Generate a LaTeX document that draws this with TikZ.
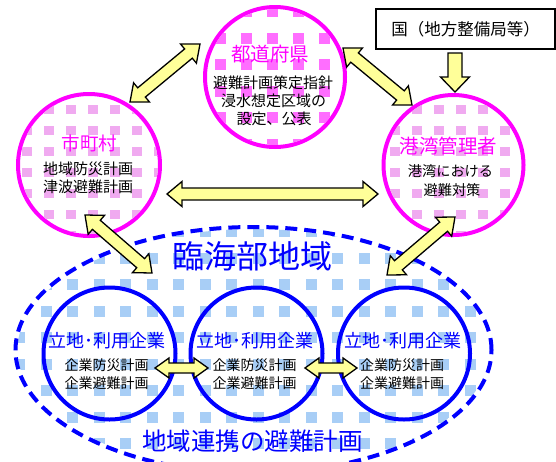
\documentclass[tikz,border=0pt]{standalone}
\usepackage{fontspec}
\newfontfamily\jp{Noto Sans CJK JP}
\usetikzlibrary{calc}
\definecolor{mag}{RGB}{255,0,255}
\definecolor{blu}{RGB}{0,0,255}
\definecolor{arrowyellow}{RGB}{255,255,153}
\definecolor{patblue}{RGB}{168,206,246}
\definecolor{patmag}{RGB}{255,110,255}
\definecolor{patmagsoft}{RGB}{240,170,240}
\tikzset{
  txt/.style={inner sep=0pt, font=\jp\fontsize{#1pt}{#1pt}\selectfont, text height=0.88em, text depth=0.12em},
  blockarrow/.style={draw=black, fill=arrowyellow, line width=1.3pt, line join=miter},
  magcircle/.style={circle, draw=mag, line width=4pt, fill=white, minimum size=#1, inner sep=0pt},
  blucircle/.style={circle, draw=blu, line width=4pt, minimum size=#1, inner sep=0pt},
}
% double block arrow: #1 from, #2 to, #3 head length, #4 head half width, #5 shaft half width
\newcommand\dbllink[5]{%
  \draw[blockarrow] (#1)
    -- ($(#1)!#3!(#2)!#4!90:(#2)$)
    -- ($(#1)!#3!(#2)!#5!90:(#2)$)
    -- ($(#2)!#3!(#1)!#5!-90:(#1)$)
    -- ($(#2)!#3!(#1)!#4!-90:(#1)$)
    -- (#2)
    -- ($(#2)!#3!(#1)!#4!90:(#1)$)
    -- ($(#2)!#3!(#1)!#5!90:(#1)$)
    -- ($(#1)!#3!(#2)!#5!-90:(#2)$)
    -- ($(#1)!#3!(#2)!#4!-90:(#2)$)
    -- cycle;}
% single block arrow: #1 tail, #2 tip
\newcommand\snglink[5]{%
  \draw[blockarrow] ($(#1)!#5!90:(#2)$)
    -- ($(#2)!#3!(#1)!#5!-90:(#1)$)
    -- ($(#2)!#3!(#1)!#4!-90:(#1)$)
    -- (#2)
    -- ($(#2)!#3!(#1)!#4!90:(#1)$)
    -- ($(#2)!#3!(#1)!#5!90:(#1)$)
    -- ($(#1)!#5!-90:(#2)$)
    -- cycle;}
\begin{document}
\begin{tikzpicture}[x=1pt,y=-1pt]
\clip (0,0) rectangle (556,461);
\fill[white] (0,0) rectangle (556,461);

% ---- coastal region ellipse ----
\coordinate (regc) at (253.5,350);
\fill[white] (regc) ellipse [x radius=238pt, y radius=123pt];
\begin{scope}
  \clip (regc) ellipse [x radius=236pt, y radius=121pt];
  \foreach \i in {0,...,19}{
    \foreach \j in {0,...,10}{
      \fill[patblue] (14+26.5*\i, 226+26.5*\j) rectangle ++(11,11);
    }
  }
\end{scope}
\draw[blu, line width=4pt, dash pattern=on 12pt off 7pt] (regc) ellipse [x radius=238pt, y radius=123pt];

% ---- company circles ----
\node[blucircle=132pt] (c1) at (109.5,353.5) {};
\node[blucircle=132pt] (c2) at (256.5,353.5) {};
\node[blucircle=132pt] (c3) at (404,353.5) {};

% ---- prefecture circle ----
\node[magcircle=140pt] (pref) at (275,77) {};
\begin{scope}
  \clip (pref.center) circle[radius=68pt];
  \foreach \i in {0,...,6}{
    \foreach \j in {0,...,6}{
      \fill[patmag] (189+26*\i, 6+26.5*\j) rectangle ++(11,11);
    }
  }
\end{scope}

% ---- municipality circle ----
\node[magcircle=142pt] (muni) at (89,165) {};
\begin{scope}
  \clip (muni.center) circle[radius=69pt];
  \foreach \i in {0,...,7}{
    \foreach \j in {0,...,7}{
      \fill[patmagsoft] (0+22*\i, 84+21*\j) rectangle ++(10,9);
    }
  }
\end{scope}

% ---- port manager circle ----
\node[magcircle=140pt] (port) at (453.5,165) {};
\begin{scope}
  \clip (port.center) circle[radius=68pt];
  \foreach \i in {0,...,7}{
    \foreach \j in {0,...,7}{
      \fill[patmagsoft] (368+22*\i, 84+21*\j) rectangle ++(10,9);
    }
  }
\end{scope}

% ---- national box ----
\node[draw=black, line width=1.3pt, fill=white, minimum width=179pt, minimum height=40pt, inner sep=0pt,
      font=\jp\fontsize{16.5pt}{16.5pt}\selectfont] (kuni) at (465.5,29) {国（地方整備局等）};

% ---- texts ----
\node[txt=19.5, text=mag] (t1) at (270,58) {都道府県};
\node[txt=15] (t1a) at (273,85) {避難計画策定指針};
\node[txt=15] (t1b) at (273.5,103) {浸水想定区域の};
\node[txt=15] (t1c) at (274,121) {設定、公表};

\node[txt=18.5, text=mag] (t2) at (89.5,147) {市町村};
\node[txt=15] (t2a) at (88,171) {地域防災計画};
\node[txt=15] (t2b) at (88,189) {津波避難計画};

\node[txt=19.5, text=mag] (t3) at (448.5,150) {港湾管理者};
\node[txt=14.2] (t3a) at (450.5,173) {港湾における};
\node[txt=14.2] (t3b) at (452,192) {避難対策};

\node[txt=32, text=blu] (t4) at (252.5,265) {臨海部地域};
\node[txt=24.5, text=blu] (t5) at (252.5,447) {地域連携の避難計画};

\node[txt=18, text=blu] (e1) at (107,344) {立地･利用企業};
\node[txt=14] (e1a) at (106.5,367) {企業防災計画};
\node[txt=14] (e1b) at (106.5,385) {企業避難計画};
\node[txt=18, text=blu] (e2) at (254.5,344) {立地･利用企業};
\node[txt=14] (e2a) at (254.5,367) {企業防災計画};
\node[txt=14] (e2b) at (254.5,385) {企業避難計画};
\node[txt=18, text=blu] (e3) at (402.5,344) {立地･利用企業};
\node[txt=14] (e3a) at (402,367) {企業防災計画};
\node[txt=14] (e3b) at (402,385) {企業避難計画};

% ---- arrow end points ----
\coordinate (a1s) at (130,102); \coordinate (a1e) at (200,44);
\coordinate (a2s) at (343,48);  \coordinate (a2e) at (412,105);
\coordinate (a3s) at (167,194); \coordinate (a3e) at (378,194);
\coordinate (a4s) at (85,215);  \coordinate (a4e) at (152,273);
\coordinate (a5s) at (455,217); \coordinate (a5e) at (387,275);
\coordinate (a6s) at (155,368); \coordinate (a6e) at (208,368);
\coordinate (a7s) at (305,368); \coordinate (a7e) at (357,368);
\coordinate (dns) at (455,53);  \coordinate (dne) at (455,92);

\dbllink{a1s}{a1e}{15pt}{12.5pt}{6pt}
\dbllink{a2s}{a2e}{15pt}{12.5pt}{6pt}
\dbllink{a3s}{a3e}{15pt}{12.5pt}{6pt}
\dbllink{a4s}{a4e}{15pt}{12.5pt}{6pt}
\dbllink{a5s}{a5e}{15pt}{12.5pt}{6pt}
\dbllink{a6s}{a6e}{14pt}{10pt}{5pt}
\dbllink{a7s}{a7e}{14pt}{10pt}{5pt}
\snglink{dns}{dne}{15pt}{14.5pt}{7pt}
\end{tikzpicture}
\end{document}
